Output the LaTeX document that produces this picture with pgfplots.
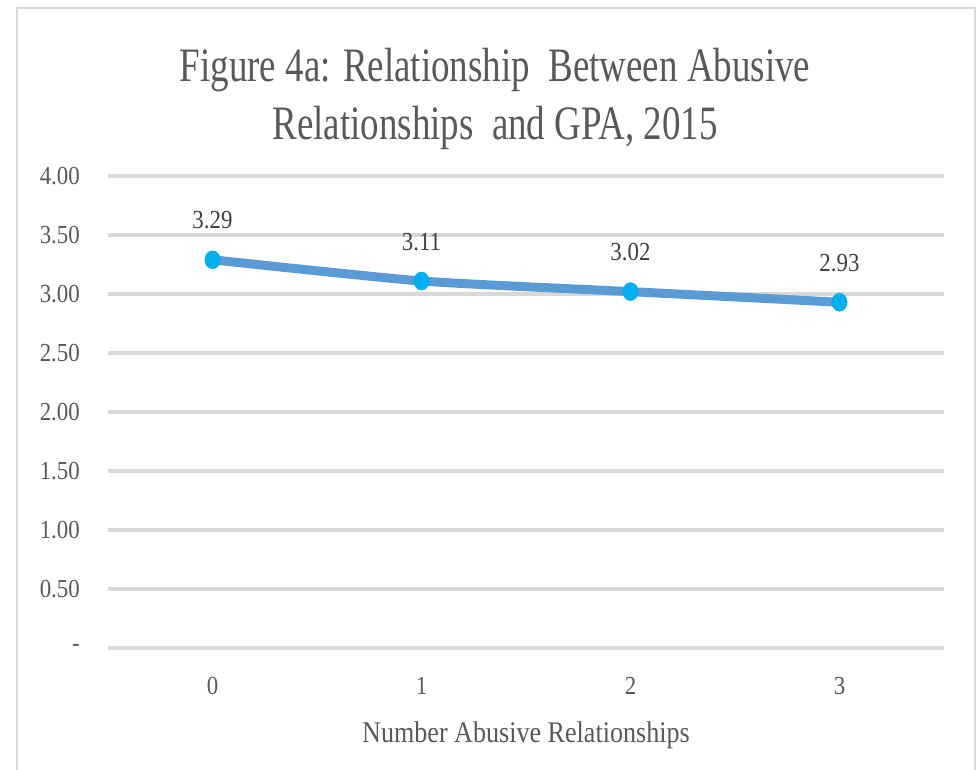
\documentclass[border=0pt]{standalone}
\usepackage{fontspec}
\setmainfont{Liberation Serif}[FakeStretch=0.88]
\newfontfamily\titlefont{Liberation Serif}[FakeStretch=0.77]
\newfontfamily\labelfont{Liberation Serif}[FakeStretch=0.87]
\usepackage{pgfplots}
\pgfplotsset{compat=1.18}

\definecolor{titlegray}{HTML}{595959}
\definecolor{labelgray}{HTML}{404040}
\definecolor{gridgray}{HTML}{D9D9D9}
\definecolor{linecol}{HTML}{5B9BD5}
\definecolor{markcol}{HTML}{00B0F0}

\begin{document}
\begin{tikzpicture}[x=1pt,y=1pt]
  \path[use as bounding box] (0,0) rectangle (979,770);
  % chart frame
  \draw[gridgray, line width=1.5pt] (17,-20) rectangle (975,762);
  % title
  \node[anchor=base, text=titlegray, inner sep=0pt] at (495,688)
    {\titlefont\fontsize{48}{48}\selectfont Figure 4a: Relationship\ \ Between Abusive};
  \node[anchor=base, text=titlegray, inner sep=0pt] at (495,630)
    {\titlefont\fontsize{48}{48}\selectfont Relationships\ \ and GPA, 2015};

  \begin{axis}[
    at={(108pt,122pt)}, anchor=south west,
    width=836pt, height=472pt, scale only axis,
    xmin=-0.5, xmax=3.5, ymin=0, ymax=4,
    axis line style={draw=none},
    major tick length=0pt,
    xtick={0,1,2,3},
    xticklabels={0,1,2,3},
    ytick={0,0.5,1,1.5,2,2.5,3,3.5,4},
    yticklabels={-,0.50,1.00,1.50,2.00,2.50,3.00,3.50,4.00},
    ymajorgrids,
    grid style={gridgray, line width=3.5pt},
    tick label style={text=titlegray, font=\fontsize{26}{26}\selectfont, inner sep=0pt},
    yticklabel style={anchor=east, xshift=-28pt},
    xticklabel style={anchor=base, yshift=-47pt},
    xlabel={Number Abusive Relationships},
    xlabel style={at={(axis description cs:0.5,0)}, anchor=base, yshift=-95pt,
      inner sep=0pt, text=titlegray, font=\labelfont\fontsize{30}{30}\selectfont},
    clip=false,
    /pgf/number format/assume math mode=true,
  ]
    \addplot[
      color=linecol, line width=9pt, smooth, tension=0.35,
      mark=*, mark size=9pt,
      mark options={fill=markcol, draw=markcol, line width=0.5pt, xscale=0.85},
      point meta=explicit,
      nodes near coords={\pgfmathprintnumber[fixed, fixed zerofill, precision=2]{\pgfplotspointmeta}},
      every node near coord/.append style={anchor=base, yshift=31pt, inner sep=0pt,
        text=labelgray, font=\fontsize{26}{26}\selectfont},
    ] coordinates {
      (0,3.29) [3.29]
      (1,3.11) [3.11]
      (2,3.02) [3.02]
      (3,2.93) [2.93]
    };
  \end{axis}
\end{tikzpicture}
\end{document}
